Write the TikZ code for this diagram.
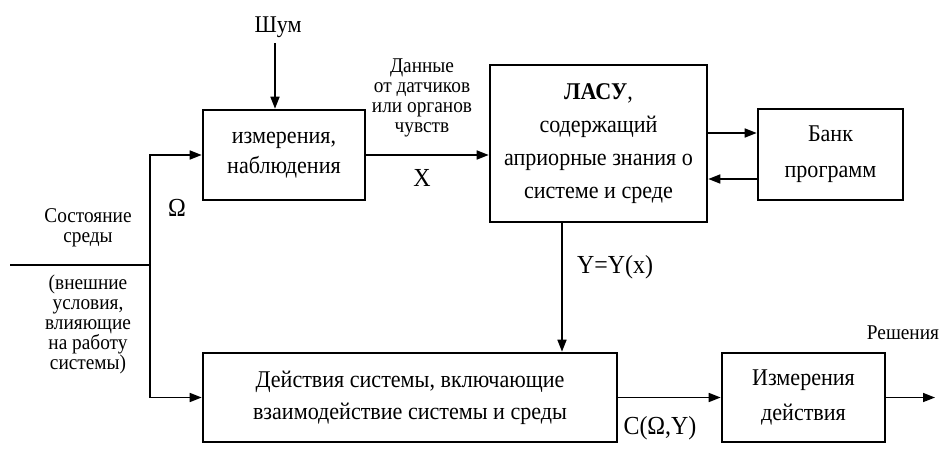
\documentclass[tikz,border=0pt]{standalone}
\usepackage{fontspec}
\setmainfont[FakeStretch=0.92]{Liberation Serif}
\usetikzlibrary{arrows.meta,calc}
\begin{document}
\begin{tikzpicture}[x=1pt,y=-1pt,
  box/.style={draw,line width=2.6pt,align=center,inner sep=0pt},
  bf/.style={font=\fontsize{24}{#1}\selectfont},
  arr/.style={line width=1.6pt,-{Triangle[length=12pt,width=9pt]}},
  ln/.style={line width=1.6pt},
  lbl/.style={align=center,inner sep=0pt,font=\fontsize{21}{20}\selectfont},
  sym/.style={inner sep=0pt,font=\fontsize{26}{26}\selectfont}]
\useasboundingbox[fill=white] (0,0) rectangle (941,463);
% boxes
\node[box,bf=30,minimum width=162pt,minimum height=90pt] (obs) at (284,155) {измерения,\\наблюдения};
\node[box,bf=33,minimum width=217pt,minimum height=157pt] (lasu) at (598.5,143.5) {\textbf{ЛАСУ},\\содержащий\\априорные знания о\\системе и среде};
\node[box,bf=36,minimum width=145pt,minimum height=91pt] (bank) at (830.5,154.5) {Банк\\программ};
\node[box,bf=32,minimum width=414pt,minimum height=89pt] (act) at (410,397.5) {Действия системы, включающие\\взаимодействие системы и среды};
\node[box,bf=35,minimum width=163pt,minimum height=89pt] (meas) at (803.5,397.5) {Измерения\\действия};
% labels
\node[lbl,font=\fontsize{24}{24}\selectfont] (noise) at (278,27) {Шум};
\node[lbl] (data) at (422,98) {Данные\\от датчиков\\или органов\\чувств};
\node[sym] (xl) at (422,178) {X};
\node[sym] (om) at (177,208) {Ω};
\node[lbl] (state) at (88,228) {Состояние\\среды};
\node[lbl] (cond) at (88,324) {(внешние\\условия,\\влияющие\\на работу\\системы)};
\node[sym] (yl) at (615,267) {Y=Y(x)};
\node[sym] (cl) at (660,428) {C(Ω,Y)};
\node[lbl] (dec) at (903,333) {Решения};
% coordinates
\coordinate (in) at (10,265);
\coordinate (j) at (150,265);
\coordinate (nz) at (275,43);
\coordinate (yx) at (562,0);
\coordinate (out) at (935,397.5);
\coordinate (b1) at ([yshift=21.5pt]bank.west);
\coordinate (b2) at ([yshift=-24.5pt]bank.west);
% connectors
\draw[ln] (in) -- (j);
\draw[arr] (j) |- (obs.west);
\draw[arr] (j) |- (act.west);
\draw[arr] (nz) -- (nz |- obs.north);
\draw[arr] (obs.east) -- (obs.east -| lasu.west);
\draw[arr] (b1 -| lasu.east) -- (b1);
\draw[arr] (b2) -- (b2 -| lasu.east);
\draw[arr] (yx |- lasu.south) -- (yx |- act.north);
\draw[arr] (act.east |- meas.west) -- (meas.west);
\draw[arr] (meas.east) -- (out);
\end{tikzpicture}
\end{document}
